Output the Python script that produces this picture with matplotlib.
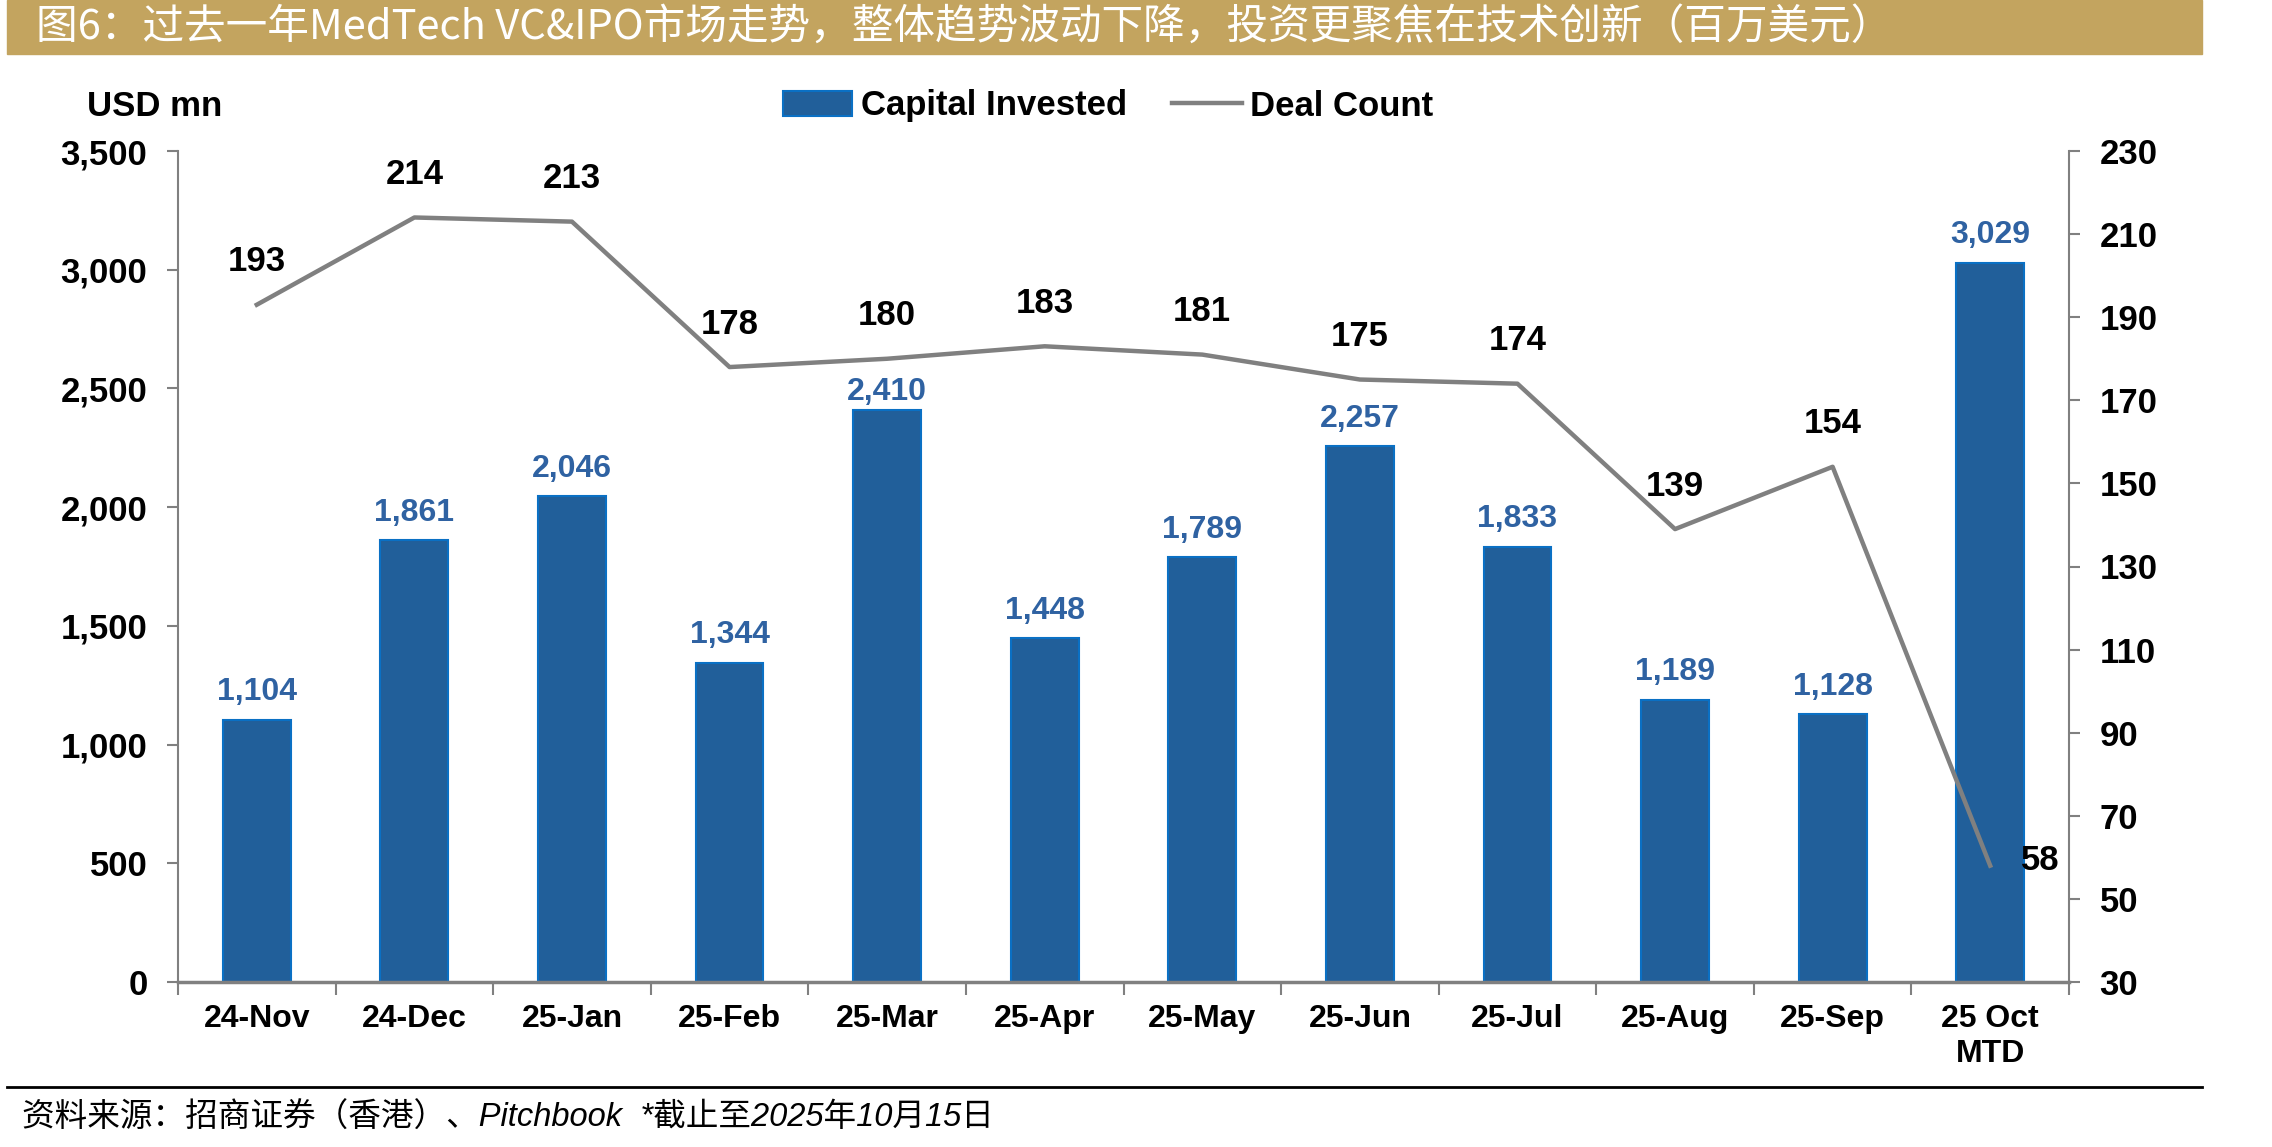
import numpy as np
import matplotlib.pyplot as plt
from matplotlib.patches import Patch, Rectangle
from matplotlib.lines import Line2D

# data
months = ['24-Nov', '24-Dec', '25-Jan', '25-Feb', '25-Mar', '25-Apr', '25-May',
          '25-Jun', '25-Jul', '25-Aug', '25-Sep', '25 Oct\nMTD']
capital = [1104, 1861, 2046, 1344, 2410, 1448, 1789, 2257, 1833, 1189, 1128, 3029]
deals = [193, 214, 213, 178, 180, 183, 181, 175, 174, 139, 154, 58]
left_ticks = [0, 500, 1000, 1500, 2000, 2500, 3000, 3500]
right_ticks = [30, 50, 70, 90, 110, 130, 150, 170, 190, 210, 230]

title = '图6：过去一年MedTech VC&IPO市场走势，整体趋势波动下降，投资更聚焦在技术创新（百万美元）'
source = '资料来源：招商证券（香港）、Pitchbook  *截止至2025年10月15日'

plt.rcParams['font.family'] = ['Liberation Sans', 'Noto Sans CJK SC', 'DejaVu Sans']

W, H = 2272, 1147
fig = plt.figure(figsize=(W / 100, H / 100), dpi=100)

bar_fill = '#215F9A'
bar_edge = '#0A70C4'
label_blue = '#2F62A2'
grey = '#808080'

# title band
fig.patches.append(Rectangle((7 / W, 1 - 54 / H), (2202 - 7) / W, 54 / H,
                             transform=fig.transFigure, color='#C3A45F', zorder=0))
fig.text(36 / W, 1 - 27 / H, title, color='white', fontsize=30,
         family=['Noto Sans CJK SC', 'DejaVu Sans'], va='center', ha='left')

ax = fig.add_axes([178 / W, 1 - 982 / H, (2069 - 178) / W, (982 - 151) / H])
x = np.arange(len(months))
ax.bar(x, capital, width=0.43, color=bar_fill, edgecolor=bar_edge, linewidth=1.5, zorder=2)
for i, (xi, v) in enumerate(zip(x, capital)):
    dy = 2 if v == max(capital[:5]) else 9   # the 25-Mar label sits closer to its bar
    ax.annotate(f'{v:,}', (xi, v), xytext=(0, dy), textcoords='offset points',
                ha='center', va='bottom', fontsize=23, fontweight='bold', color=label_blue)

ax.set_xlim(-0.5, len(months) - 0.5)
ax.set_ylim(0, 3500)
ax.set_yticks(left_ticks)
ax.set_yticklabels([f'{t:,}' for t in left_ticks], fontsize=25, fontweight='bold')
ax.set_xticks(x)
ax.set_xticklabels(months, fontsize=23, fontweight='bold')
ax.set_xticks(np.arange(-0.5, len(months)), minor=True)
ax.tick_params(axis='x', which='major', length=0, pad=16)
ax.tick_params(axis='x', which='minor', length=9, width=1.5, color=grey, direction='out')
ax.tick_params(axis='y', length=8, width=1.5, color=grey, pad=14)
for s in ['top', 'right']:
    ax.spines[s].set_visible(False)
ax.spines['left'].set_color(grey)
ax.spines['left'].set_linewidth(1.5)
ax.spines['bottom'].set_color(grey)
ax.spines['bottom'].set_linewidth(2.5)

ax2 = ax.twinx()
ax2.plot(x, deals, color=grey, linewidth=3.2, zorder=3)
ax2.set_ylim(30, 230)
ax2.set_yticks(right_ticks)
ax2.set_yticklabels([str(t) for t in right_ticks], fontsize=25, fontweight='bold')
ax2.tick_params(axis='y', length=8, width=1.5, color=grey, pad=14)
for s in ['top', 'left', 'bottom']:
    ax2.spines[s].set_visible(False)
ax2.spines['right'].set_color(grey)
ax2.spines['right'].set_linewidth(1.5)
for i, (xi, v) in enumerate(zip(x, deals)):
    if i == len(deals) - 1:
        ax2.annotate(str(v), (xi, v), xytext=(36, 4), textcoords='offset points',
                     ha='center', va='center', fontsize=25, fontweight='bold')
    else:
        ax2.annotate(str(v), (xi, v), xytext=(0, 31), textcoords='offset points',
                     ha='center', va='center', fontsize=25, fontweight='bold')

fig.text(87 / W, 1 - 106 / H, 'USD mn', fontsize=25, fontweight='bold', ha='left', va='center')

handles = [Patch(facecolor=bar_fill, edgecolor=bar_edge, linewidth=1.5),
           Line2D([0], [0], color=grey, linewidth=3.2)]
fig.legend(handles, ['Capital Invested', 'Deal Count'], loc='center',
           bbox_to_anchor=(1108 / W, 1 - 106 / H), ncol=2, frameon=False,
           prop={'size': 25, 'weight': 'bold'}, handlelength=2.0,
           handleheight=0.7, handletextpad=0.25, columnspacing=1.3)

# footer
fig.add_artist(Line2D([7 / W, 2202 / W], [1 - 1087 / H, 1 - 1087 / H],
                      transform=fig.transFigure, color='black', linewidth=2))
fig.text(22 / W, 1 - 1118 / H, source, fontsize=23.5, style='italic', ha='left', va='center')

fig.savefig('out.png', dpi=100)
